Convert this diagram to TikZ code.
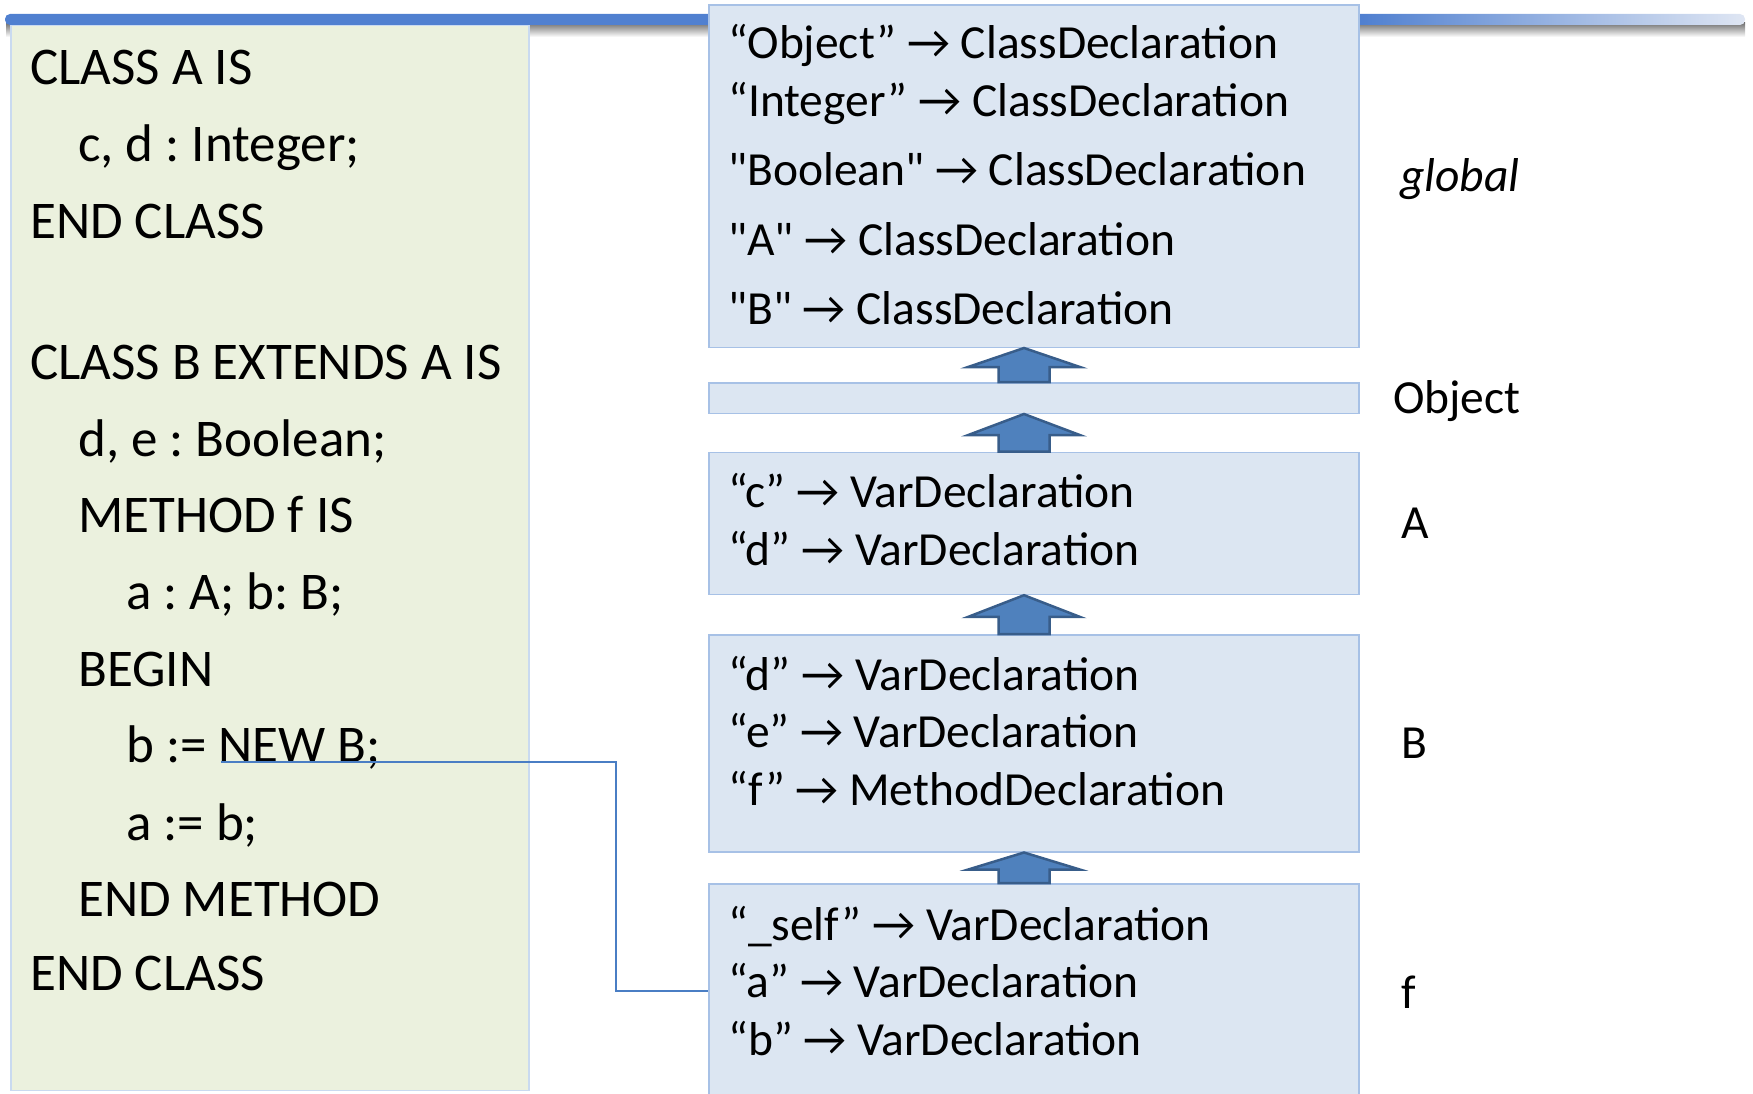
\documentclass[tikz,border=0pt]{standalone}
\usepackage{fontspec}
\setmainfont{Carlito}[Ligatures=TeXOff]
\usetikzlibrary{calc}
\definecolor{codefill}{HTML}{EBF1DE}
\definecolor{codeline}{HTML}{C9DAF0}
\definecolor{scopefill}{HTML}{DCE6F2}
\definecolor{scopeline}{HTML}{A7C1E6}
\definecolor{barblue}{RGB}{80,128,208}
\definecolor{barpale}{HTML}{DFE6F3}
\definecolor{arrowfill}{HTML}{4F81BD}
\definecolor{arrowline}{HTML}{385D8A}
\definecolor{linkblue}{HTML}{4A7EC4}
\pgfdeclarehorizontalshading{barshade}{100bp}{color(0bp)=(barblue); color(25bp)=(barblue); color(64bp)=(barblue); color(75bp)=(barpale); color(100bp)=(barpale)}

% block arrow pointing from the top of box #1 up to the bottom of box #2
\newcommand\liftarrow[2]{%
  \path (ax |- #1.north) coordinate (lb) (ax |- #2.south) coordinate (lt)
        ($(lt)!0.56!(lb)$) coordinate (lh);
  \draw[liftarrow] ($(lb)+(-25.5,0)$) -- ($(lh)+(-25.5,0)$) -- ($(lh)+(-56,0)$) -- (lt)
     -- ($(lh)+(56,0)$) -- ($(lh)+(25.5,0)$) -- ($(lb)+(25.5,0)$) -- cycle;}

\begin{document}
\frenchspacing
\begin{tikzpicture}[x=1pt,y=-1pt,
  codebox/.style={draw=codeline, line width=1.5pt, fill=codefill, anchor=north west, inner sep=0pt},
  scopebox/.style={draw=scopeline, line width=1.5pt, fill=scopefill, anchor=north west, inner sep=0pt, minimum width=650pt},
  codetext/.style={anchor=base west, inner sep=0pt, font=\fontsize{53}{60}\selectfont},
  entry/.style={anchor=base west, inner sep=0pt, font=\fontsize{47.5}{55}\selectfont},
  scopelabel/.style={anchor=base west, inner sep=0pt, font=\fontsize{47.5}{55}\selectfont},
  liftarrow/.style={fill=arrowfill, draw=arrowline, line width=2.5pt, line join=miter},
  link/.style={draw=linkblue, line width=1.8pt}]

\useasboundingbox (0,0) rectangle (1753,1094);

% title bar with its soft shadow
\shade[top color=black!55, bottom color=white] (6,23) rectangle (1745,37);
\shade[shading=barshade, rounded corners=5pt] (5,14) rectangle (1745,25);

% source code panel
\node[codebox, minimum width=518pt, minimum height=1065pt] (code) at (10,24.6) {};
\node[codetext] (c1)  at (30,85)  {CLASS A IS};
\node[codetext] (c2)  at (78,162) {c, d : Integer;};
\node[codetext] (c3)  at (30,238) {END CLASS};
\node[codetext] (c4)  at (30,379) {CLASS B EXTENDS A IS};
\node[codetext] (c5)  at (78,456) {d, e : Boolean;};
\node[codetext] (c6)  at (78,532) {METHOD f IS};
\node[codetext] (c7)  at (126,609) {a : A; b: B;};
\node[codetext] (c8)  at (78,686) {BEGIN};
\node[codetext] (c9)  at (126,762) {b := NEW B;};
\node[codetext] (c10) at (126,840) {a := b;};
\node[codetext] (c11) at (78,916) {END METHOD};
\node[codetext] (c12) at (30,990) {END CLASS};

% scope tables
\node[scopebox, minimum height=342pt] (global) at (708,4.5) {};
\node[scopebox, minimum height=30.5pt] (object) at (708,382) {};
\node[scopebox, minimum height=142pt] (scA) at (708,451.7) {};
\node[scopebox, minimum height=217pt] (scB) at (708,634) {};
\node[scopebox, minimum height=215pt] (scf) at (708,883) {};

\node[entry] (g1) at (728,59)  {“Object” → ClassDeclaration};
\node[entry] (g2) at (728,117) {“Integer” → ClassDeclaration};
\node[entry] (g3) at (728,186) {"Boolean" → ClassDeclaration};
\node[entry] (g4) at (728,255) {"A" → ClassDeclaration};
\node[entry] (g5) at (728,324) {"B" → ClassDeclaration};

\node[entry] (a1) at (728,507) {“c” → VarDeclaration};
\node[entry] (a2) at (728,565) {“d” → VarDeclaration};

\node[entry] (b1) at (728,690) {“d” → VarDeclaration};
\node[entry] (b2) at (728,747) {“e” → VarDeclaration};
\node[entry] (b3) at (728,805) {“f” → MethodDeclaration};

\node[entry] (f1) at (728,940)  {“\_self” → VarDeclaration};
\node[entry] (f2) at (728,997)  {“a” → VarDeclaration};
\node[entry] (f3) at (728,1055) {“b” → VarDeclaration};

% scope names
\node[scopelabel, font=\fontsize{47.5}{55}\selectfont\itshape] (lglobal) at (1400,192) {global};
\node[scopelabel] (lobject) at (1393,413) {Object};
\node[scopelabel] (lA) at (1401,538) {A};
\node[scopelabel] (lB) at (1401,758) {B};
\node[scopelabel] (lf) at (1401,1008) {f};

% parent links between scopes
\coordinate (ax) at (1024,0);
\liftarrow{object}{global}
\liftarrow{scA}{object}
\liftarrow{scB}{scA}
\liftarrow{scf}{scB}

% the statement linked to the method scope
\coordinate (newstart) at (221,762);
\coordinate (bend) at (616,0);
\draw[link] (newstart) -| (bend |- scf.west) -- (scf.west);
\end{tikzpicture}
\end{document}
